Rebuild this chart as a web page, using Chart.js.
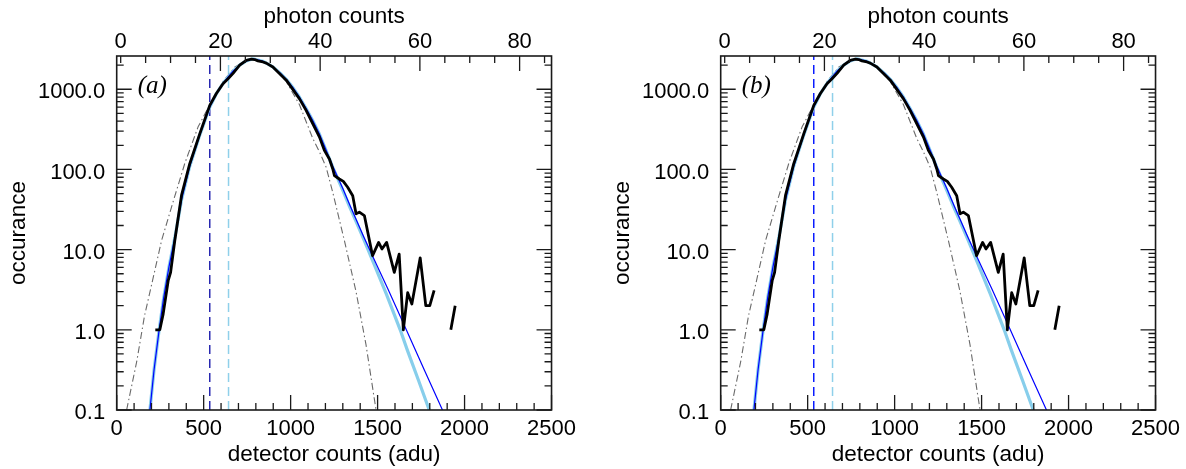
<!DOCTYPE html>
<html><head><meta charset="utf-8">
<script src="https://cdn.jsdelivr.net/npm/chart.js@4.4.1/dist/chart.umd.min.js"></script>
<style>
html,body{margin:0;padding:0;background:#fff;}
body{width:1186px;height:469px;position:relative;overflow:hidden;}
.panel{position:absolute;top:0;width:582px;height:469px;}
</style></head><body>
<div class="panel" style="left:0"><canvas id="ca" width="582" height="469"></canvas></div>
<div class="panel" style="left:604px"><canvas id="cb" width="582" height="469"></canvas></div>
<script>
// ---- data ----
const histAdu    = [222, 248, 267, 296, 310, 334, 373, 420, 478, 535, 573, 611, 640, 669, 707, 745, 774, 793, 812, 841, 860, 898, 975, 1051, 1089, 1127, 1166, 1194, 1223, 1242, 1252, 1280, 1303, 1328, 1357, 1376, 1395, 1424, 1471, 1506, 1525, 1552, 1596, 1624, 1648, 1673, 1697, 1745, 1777, 1800, 1825, 1870, 1921, 1946];
const histCounts = [1.0, 1.0, 1.57, 4.1, 5.2, 13, 48, 118, 280, 630, 885, 1170, 1350, 1580, 1995, 2300, 2370, 2350, 2260, 2190, 2120, 1900, 1300, 760, 545, 373, 253, 173, 135, 102, 84, 76, 71, 60, 47, 28, 29.3, 26.6, 8.4, 12.3, 10.2, 12.3, 5.2, 8.8, 1.0, 2.9, 2.1, 7.9, 2.0, 2.0, 3.1, null, 1.0, 2.0];

const modelAAdu    = [191, 215, 244, 270, 300, 334, 373, 420, 478, 535, 573, 611, 640, 669, 707, 745, 783, 840, 898, 940, 975, 1013, 1051, 1089, 1127, 1166, 1203, 1242, 1300, 1340, 1376, 1420, 1475, 1550, 1630, 1672, 1735, 1797];
const modelACounts = [0.1, 0.32, 1.0, 2.5, 6.0, 14, 42, 110, 270, 600, 880, 1180, 1420, 1680, 2000, 2260, 2400, 2240, 1900, 1590, 1330, 1050, 795, 575, 407, 275, 174, 107, 55, 34, 22.5, 13.5, 7.0, 2.8, 1.0, 0.55, 0.235, 0.1];

const modelBAdu    = [191, 215, 244, 270, 300, 334, 373, 420, 478, 535, 573, 611, 640, 669, 707, 745, 783, 840, 898, 940, 975, 1013, 1051, 1089, 1127, 1166, 1203, 1242, 1300, 1340, 1376, 1420, 1475, 1560, 1665, 1770, 1873];
const modelBCounts = [0.1, 0.32, 1.0, 2.5, 6.0, 14, 42, 110, 270, 600, 880, 1180, 1420, 1680, 2000, 2260, 2400, 2240, 1900, 1590, 1330, 1050, 795, 575, 407, 275, 176, 110, 58, 36, 24, 14.5, 8.0, 3.2, 1.0, 0.31, 0.1];

const gaussAdu    = [57, 115, 160, 206, 258, 325, 392, 468, 535, 611, 680, 745, 790, 840, 900, 975, 1051, 1127, 1166, 1204, 1242, 1309, 1376, 1433, 1491];
const gaussCounts = [0.1, 0.4, 1.5, 4.1, 13, 40, 120, 340, 640, 1250, 1900, 2280, 2340, 2230, 1880, 1250, 640, 245, 165, 107, 52, 13, 3.0, 0.66, 0.1];

const thresholdAdu = [535, 643];           // vertical dashed lines
const panelTags = ['(a)', '(b)'];
const thresholdColors = [['#2828b0', '#8fd0ea'], ['#0a1cff', '#8fd0ea']];

// ---- axes ----
const aduMin = 0, aduMax = 2500, aduStep = 100;
const aduLabels = [0, 500, 1000, 1500, 2000, 2500];
const photonMin = -0.8, photonMax = 86.4, photonStep = 5;
const photonLabels = [0, 20, 40, 60, 80];
const yMin = 0.1, yMax = 2600;
const yLabels = [0.1, 1, 10, 100, 1000];

const pts = (xs, ys) => xs.map((x, i) => ({x, y: ys[i]}));
const range = (a, b, s) => { const r = []; for (let v = a; v <= b + 1e-9; v += s) r.push(Math.round(v * 1000) / 1000); return r; };
const yTickVals = [];
yLabels.forEach(d => { for (let k = 1; k <= 9; k++) { const v = k * d; if (v <= yMax) yTickVals.push(v); } });

const FONT = '"Liberation Sans", Arial, Helvetica, sans-serif';

const framePlugin = {
  id: 'frame',
  afterDraw(chart, args, opts) {
    const {ctx, chartArea: {left, right, top, bottom}} = chart;
    const {x, x2, y} = chart.scales;
    ctx.save();
    ctx.strokeStyle = '#1a1a1a';
    ctx.lineWidth = 1.3;
    ctx.beginPath();
    x.ticks.forEach(t => {
      const p = x.getPixelForValue(t.value);
      const L = aduLabels.includes(t.value) ? 15 : 7;
      ctx.moveTo(p, bottom); ctx.lineTo(p, bottom - L);
    });
    x2.ticks.forEach(t => {
      const p = x2.getPixelForValue(t.value);
      const L = (photonLabels.includes(t.value) && t.value !== 0) ? 15 : 7;
      ctx.moveTo(p, top); ctx.lineTo(p, top + L);
    });
    y.ticks.forEach(t => {
      const p = y.getPixelForValue(t.value);
      const L = yLabels.includes(t.value) ? 15 : 7;
      ctx.moveTo(left, p); ctx.lineTo(left + L, p);
      ctx.moveTo(right, p); ctx.lineTo(right - L, p);
    });
    ctx.stroke();
    ctx.lineWidth = 1.6;
    ctx.strokeRect(left, top, right - left, bottom - top);
    ctx.font = 'italic 25px "Liberation Serif", "Times New Roman", serif';
    ctx.fillStyle = '#000';
    ctx.textBaseline = 'middle';
    ctx.textAlign = 'left';
    ctx.fillText(opts.tag, left + 21, top + 30);
    ctx.restore();
  }
};

const gridOff = {display: false, drawTicks: false, tickLength: 0};
const TICK_FONT = {family: FONT, size: 22};
const TITLE_FONT = {family: FONT, size: 22.5};

function makeChart(id, idx) {
  const vcol = thresholdColors[idx];
  const datasets = [
    {data: pts(histAdu, histCounts), borderColor: '#000', borderWidth: 2.8, spanGaps: false},
    {data: pts(modelBAdu, modelBCounts), borderColor: '#0000ff', borderWidth: 1.2},
    {data: pts(modelAAdu, modelACounts), borderColor: '#87ceeb', borderWidth: 3.2},
    {data: pts(gaussAdu, gaussCounts), borderColor: '#6a6a6a', borderWidth: 1.1, borderDash: [7, 3, 1.5, 3]},
    {data: [{x: thresholdAdu[0], y: yMin}, {x: thresholdAdu[0], y: yMax}], borderColor: vcol[0], borderWidth: 1.5, borderDash: [9, 5]},
    {data: [{x: thresholdAdu[1], y: yMin}, {x: thresholdAdu[1], y: yMax}], borderColor: vcol[1], borderWidth: 1.5, borderDash: [9, 5]}
  ];
  return new Chart(document.getElementById(id), {
    type: 'line',
    data: {datasets},
    options: {
      responsive: false,
      animation: false,
      devicePixelRatio: 1,
      layout: {padding: {left: 0, right: 28.5, top: 0, bottom: 0}},
      elements: {point: {radius: 0}, line: {tension: 0, borderCapStyle: 'butt', borderJoinStyle: 'round'}},
      plugins: {legend: {display: false}, tooltip: {enabled: false}, frame: {tag: panelTags[idx]}},
      scales: {
        x: {
          type: 'linear', position: 'bottom', min: aduMin, max: aduMax,
          grid: gridOff, border: {display: false},
          afterBuildTicks: s => { s.ticks = range(aduMin, aduMax, aduStep).map(v => ({value: v})); },
          afterFit: s => { s.height = 59; },
          ticks: {autoSkip: false, maxRotation: 0, padding: 6, color: '#000', font: TICK_FONT,
                  callback: v => aduLabels.includes(v) ? String(v) : ''},
          title: {display: true, text: 'detector counts (adu)', color: '#000', font: TITLE_FONT, padding: {top: 0, bottom: 1}}
        },
        x2: {
          type: 'linear', position: 'top', min: photonMin, max: photonMax,
          grid: gridOff, border: {display: false},
          afterBuildTicks: s => { s.ticks = range(0, 85, photonStep).map(v => ({value: v})); },
          afterFit: s => { s.height = 56; },
          ticks: {autoSkip: false, maxRotation: 0, padding: 1, color: '#000', font: TICK_FONT,
                  callback: v => photonLabels.includes(v) ? String(v) : ''},
          title: {display: true, text: 'photon counts', color: '#000', font: TITLE_FONT, padding: {top: 3, bottom: 0}}
        },
        y: {
          type: 'logarithmic', position: 'left', min: yMin, max: yMax,
          grid: gridOff, border: {display: false},
          afterBuildTicks: s => { s.ticks = yTickVals.map(v => ({value: v})); },
          afterFit: s => { s.width = 116.7; },
          ticks: {autoSkip: false, padding: 11.5, labelOffset: 3, color: '#000', font: TICK_FONT,
                  callback: v => yLabels.includes(v) ? v.toFixed(1) : ''},
          title: {display: true, text: 'occurance', color: '#000', font: TITLE_FONT, padding: {top: 5, bottom: 0}}
        }
      }
    },
    plugins: [framePlugin]
  });
}
makeChart('ca', 0);
makeChart('cb', 1);
</script>
</body></html>
